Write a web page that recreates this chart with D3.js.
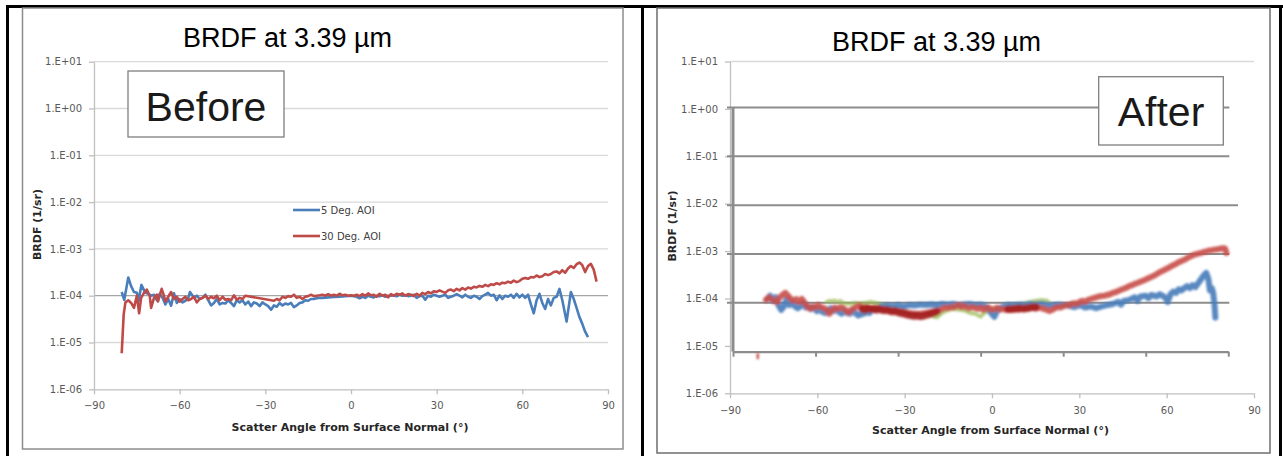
<!DOCTYPE html>
<html>
<head>
<meta charset="utf-8">
<script src="https://cdn.jsdelivr.net/npm/d3@7"></script>
<style>
  body { margin: 0; background: #fff; }
  svg { display: block; }
  .tick text { font-family: "DejaVu Sans", sans-serif; font-size: 10px; fill: #595959; }
</style>
</head>
<body>
<svg id="chart" width="1283" height="456"></svg>
<script>
// Values as [angle in deg, BRDF in units of 1E-04 1/sr]
const UNIT = 1e-4;

const yTickValues = [1e1, 1e0, 1e-1, 1e-2, 1e-3, 1e-4, 1e-5, 1e-6];
const yTickLabels = ["1.E+01", "1.E+00", "1.E-01", "1.E-02", "1.E-03", "1.E-04", "1.E-05", "1.E-06"];
const xTickValues = [-90, -60, -30, 0, 30, 60, 90];
const overlayGridValues = [1e0, 1e-1, 1e-2, 1e-3, 1e-4];
const seriesNames = ["5 Deg. AOI", "30 Deg. AOI"];

// "Before" panel
const before5 = [
  [-80.3, 1.2], [-79.4, 0.82], [-78, 2.45], [-77, 1.6], [-76, 1.2], [-75, 1.15], [-74.4, 0.78], [-73.4, 1.7], [-72, 1.15],
  [-71, 1.1], [-70, 1.0], [-69, 1.05], [-68, 0.8], [-67, 1.1], [-66, 0.9], [-65, 0.65], [-64, 0.85], [-63, 0.61], [-62, 1.13],
  [-61, 0.7], [-60, 0.85], [-59, 0.72], [-58, 0.78], [-57, 0.9], [-56.4, 1.2], [-55, 0.9], [-54, 1.0], [-53, 0.85], [-52, 0.9],
  [-51, 1.05], [-50, 0.8], [-49, 0.62], [-48, 0.7], [-47, 0.85], [-46, 0.65], [-45, 0.7], [-44, 0.68], [-43, 0.8], [-42, 0.7],
  [-41, 0.6], [-40, 0.8], [-39, 0.72], [-38, 0.8], [-37, 0.65], [-36, 0.75], [-35, 0.6], [-34, 0.72], [-33, 0.68], [-32, 0.6],
  [-31, 0.72], [-30, 0.65], [-29, 0.6], [-28, 0.5], [-27, 0.62], [-26, 0.58], [-25, 0.7], [-24, 0.62], [-23, 0.68], [-22, 0.65],
  [-21, 0.7], [-20, 0.57], [-19, 0.62], [-18, 0.7], [-17, 0.72], [-16, 0.8], [-15, 0.78], [-14, 0.85], [-13, 0.85], [-12, 0.88],
  [-11, 0.9], [-10, 0.9], [-8, 0.92], [-6, 0.94], [-4, 0.95], [-2, 0.97], [0, 1.0], [1, 0.98], [2, 0.95], [3, 0.88],
  [4, 0.95], [5, 0.9], [6, 1.0], [7, 0.95], [8, 0.92], [9, 1.0], [10, 0.97], [11, 1.02], [12, 0.95], [13, 1.0],
  [14, 1.0], [15, 1.02], [16, 0.97], [17, 1.05], [18, 1.0], [19, 1.02], [20, 0.98], [21, 1.0], [22, 1.05], [23, 0.9],
  [24, 0.98], [25, 1.0], [26, 0.82], [27, 1.0], [28, 0.95], [29, 1.05], [30, 1.0], [31, 0.95], [32, 1.0], [33, 1.05],
  [34, 0.9], [35, 0.95], [36, 1.0], [37, 1.08], [38, 1.0], [39, 0.92], [40, 1.05], [41, 0.95], [42, 0.9], [43, 1.0],
  [44, 0.95], [45, 0.85], [46, 0.98], [47, 1.05], [48, 1.15], [49, 1.0], [50, 1.05], [51, 0.8], [52, 1.02], [53, 0.85],
  [54, 1.0], [55, 0.95], [56, 1.05], [57, 0.9], [58, 1.1], [59, 0.92], [60, 1.05], [61, 0.9], [62, 1.05], [63, 0.65],
  [64, 0.42], [65, 0.8], [66, 1.1], [67, 0.7], [68, 0.52], [69, 0.85], [70, 0.62], [71, 0.9], [72, 0.95], [73, 1.4],
  [74, 0.8], [75.5, 0.28], [77, 1.2], [78, 0.85], [79, 0.55], [80, 0.35], [81, 0.25], [82, 0.17], [83, 0.13]
];

const before30 = [
  [-80.3, 0.059], [-79.6, 0.4], [-79, 0.72], [-78, 0.8], [-77, 0.7], [-76, 0.55], [-75, 1.0], [-74.2, 0.42], [-73.5, 0.9],
  [-72.5, 1.15], [-71.5, 1.35], [-70.5, 1.0], [-70, 0.55], [-69, 0.9], [-68, 1.05], [-67.6, 0.75], [-66.3, 1.4], [-65.5, 1.0],
  [-65, 0.75], [-64, 0.95], [-63, 1.2], [-62, 0.85], [-61, 0.95], [-60, 0.75], [-59, 0.85], [-58, 0.95], [-57, 0.8],
  [-56, 0.85], [-55, 0.95], [-54, 0.72], [-53, 0.85], [-52, 0.9], [-51, 1.0], [-50, 0.85], [-49, 0.95], [-48, 0.88],
  [-47, 1.0], [-46, 0.8], [-45, 0.95], [-44, 0.82], [-43, 0.85], [-42, 0.8], [-41, 1.02], [-40, 0.82], [-39, 0.9],
  [-38, 0.85], [-37, 1.0], [-27, 0.78], [-26, 0.85], [-25, 0.8], [-24, 0.95], [-23, 0.9], [-22, 0.98], [-21, 0.95],
  [-20, 1.05], [-19, 0.9], [-18, 0.95], [-17, 0.85], [-16, 0.95], [-15, 0.98], [-14, 1.05], [-13, 0.98], [-12, 1.0],
  [-11, 1.02], [-10, 1.05], [-9, 1.0], [-8, 1.08], [-7, 1.0], [-6, 1.05], [-5, 1.0], [-4, 1.1], [-3, 1.02], [-2, 1.05],
  [-1, 1.0], [0, 1.02], [1, 1.0], [2, 1.05], [3, 0.98], [4, 1.08], [5, 1.0], [6, 1.12], [7, 1.02], [8, 1.05], [9, 0.95],
  [10, 1.1], [11, 1.0], [12, 1.05], [13, 0.92], [14, 1.08], [15, 1.0], [16, 1.1], [17, 1.05], [18, 1.12], [19, 1.0],
  [20, 1.08], [21, 1.05], [22, 0.98], [23, 1.1], [24, 1.0], [25, 1.15], [26, 1.08], [27, 1.2], [28, 1.12], [29, 1.25],
  [30, 1.2], [31, 1.3], [32, 1.22], [33, 1.15], [34, 1.3], [35, 1.35], [36, 1.25], [37, 1.4], [38, 1.3], [39, 1.45],
  [40, 1.35], [41, 1.5], [42, 1.42], [43, 1.55], [44, 1.5], [45, 1.62], [46, 1.55], [47, 1.7], [48, 1.6], [49, 1.75],
  [50, 1.7], [51, 1.85], [52, 1.75], [53, 1.9], [54, 1.85], [55, 2.0], [56, 1.9], [57, 2.1], [58, 1.95], [59, 2.05],
  [60, 2.3], [61, 2.4], [62, 2.3], [63, 2.5], [64, 2.45], [65, 2.7], [66, 2.5], [67, 2.6], [68, 2.9], [69, 2.75],
  [70, 2.9], [71, 3.2], [72, 3.3], [73, 3.0], [74, 3.5], [75, 3.1], [76, 3.8], [77, 4.3], [78, 3.9], [79, 4.7],
  [80, 5.1], [81, 4.5], [82, 3.2], [83, 4.3], [84, 4.8], [85, 3.6], [86, 2.0]
];

// "After" panel (pasted plot with its own axes)
const afterGreen = [
  [-56, 1.05], [-55, 1.1], [-54, 1.08], [-53, 1.12], [-52, 1.05], [-51, 1.1], [-50, 1.0], [-48, 0.95], [-46, 1.0],
  [-44, 0.98], [-42, 1.0], [-40, 1.05], [-38, 1.0], [-36, 0.95], [-34, 0.9], [-32, 0.85], [-30, 0.75], [-28, 0.72],
  [-26, 0.65], [-24, 0.62], [-22, 0.6], [-20, 0.6], [-18, 0.55], [-16, 0.5], [-15, 0.55], [-14, 0.62], [-12, 0.7],
  [-10, 0.75], [-8, 0.72], [-6, 0.7], [-4, 0.62], [-2, 0.6], [0, 0.52], [1, 0.6], [2, 0.65], [4, 0.7], [6, 0.75],
  [8, 0.8], [10, 0.85], [12, 0.9], [14, 0.95], [16, 1.0], [18, 1.05], [20, 1.1], [22, 1.15], [24, 1.12], [25, 1.0]
];

const afterBlue = [
  [-77.5, 1.2], [-76.5, 1.4], [-75.5, 1.1], [-74.5, 1.3], [-73.5, 0.9], [-72.5, 0.72], [-71.5, 0.85], [-70.5, 1.2],
  [-69.5, 0.9], [-68.5, 1.05], [-67.5, 0.85], [-66.5, 0.78], [-65.5, 0.85], [-64.5, 1.0], [-63.5, 0.8], [-62.5, 0.85],
  [-61.5, 0.75], [-60.5, 0.8], [-59.5, 0.68], [-58.5, 0.75], [-57.5, 0.65], [-56.5, 0.62], [-55.5, 0.7], [-54.5, 0.78],
  [-53.5, 0.68], [-52.5, 0.72], [-51.5, 0.65], [-50.5, 0.6], [-49.5, 0.68], [-48.5, 0.62], [-47.5, 0.6], [-46.5, 0.7],
  [-45.5, 0.62], [-44.5, 0.55], [-43.5, 0.58], [-42.5, 0.6], [-41.5, 0.65], [-40.5, 0.62], [-39.5, 0.7], [-38, 0.75],
  [-36, 0.85], [-34, 0.88], [-32, 0.85], [-30, 0.9], [-28, 0.85], [-26, 0.9], [-24, 0.88], [-22, 0.92], [-20, 0.9],
  [-18, 0.93], [-16, 0.9], [-14, 0.95], [-12, 0.92], [-10, 0.95], [-8, 0.9], [-6, 0.93], [-4, 0.95], [-2, 0.9],
  [0, 0.92], [2, 0.85], [4, 0.6], [5, 0.52], [6, 0.7], [8, 0.85], [10, 0.9], [12, 0.88], [14, 0.92], [16, 0.9],
  [18, 0.95], [20, 0.92], [22, 0.95], [24, 0.9], [26, 0.88], [28, 0.92], [30, 0.9], [32, 0.88], [34, 0.82], [36, 0.9],
  [38, 0.8], [40, 0.85], [42, 0.78], [44, 0.85], [46, 0.9], [48, 0.95], [50, 1.05], [51, 0.92], [52, 1.1], [54, 1.15],
  [56, 1.3], [57, 1.1], [58, 1.35], [60, 1.4], [61, 1.25], [62, 1.45], [64, 1.35], [65, 1.5], [66, 1.4], [67, 1.3],
  [68, 1.05], [69, 1.5], [70, 1.7], [71, 1.6], [72, 1.9], [73, 1.8], [74, 2.0], [75, 2.2], [76, 2.0], [77, 2.3],
  [78, 2.1], [79, 2.5], [80, 3.0], [81, 3.6], [82, 4.1], [82.8, 3.0], [83.3, 1.8], [84, 2.0], [84.5, 1.6], [85, 0.9],
  [85.3, 0.5]
];

const afterRed = [
  [-78, 1.15], [-77, 1.3], [-76, 1.2], [-75, 1.1], [-74, 1.05], [-73, 1.3], [-72, 1.45], [-71, 1.6], [-70, 1.4],
  [-69, 1.2], [-68, 1.1], [-67, 1.2], [-66, 1.05], [-65, 1.2], [-64, 1.0], [-63, 0.85], [-62, 0.75], [-61, 0.85],
  [-60, 0.8], [-59, 0.9], [-58, 0.82], [-57, 0.78], [-56, 0.72], [-55, 0.6], [-54, 0.7], [-53, 0.8], [-52, 0.75],
  [-51, 0.82], [-50, 0.78], [-49, 0.7], [-48, 0.63], [-47, 0.72], [-46, 0.78], [-45, 0.85], [-44, 0.88], [-43, 0.8],
  [-42, 0.82], [-40, 0.78], [-38, 0.8], [-36, 0.75], [-34, 0.72], [-32, 0.7], [-30, 0.68], [-28, 0.65], [-26, 0.62],
  [-24, 0.6], [-22, 0.6], [-20, 0.62], [-18, 0.65], [-16, 0.68], [-15, 0.7], [-14, 0.75], [-13, 0.8], [-12, 0.78],
  [-11, 0.82], [-10, 0.8], [-9, 0.85], [-8, 0.9], [-7, 0.82], [-6, 0.88], [-5, 0.8], [-4, 0.78], [-3, 0.82], [-2, 0.78],
  [-1, 0.75], [0, 0.8], [1, 0.72], [2, 0.78], [3, 0.8], [4, 0.72], [5, 0.75], [6, 0.8], [7, 0.72], [8, 0.76],
  [9, 0.72], [10, 0.75], [11, 0.72], [12, 0.78], [13, 0.74], [14, 0.72], [15, 0.76], [16, 0.78], [17, 0.75], [18, 0.8],
  [19, 0.78], [20, 0.76], [21, 0.8], [22, 0.78], [23, 0.75], [24, 0.72], [25, 0.68], [26, 0.72], [27, 0.78], [28, 0.82],
  [29, 0.8], [30, 0.85], [31, 0.9], [32, 0.88], [33, 0.95], [34, 0.98], [35, 0.95], [36, 1.05], [37, 1.1], [38, 1.05],
  [39, 1.15], [40, 1.2], [41, 1.25], [42, 1.3], [43, 1.35], [44, 1.38], [45, 1.4], [46, 1.45], [47, 1.5], [48, 1.6],
  [49, 1.65], [50, 1.75], [51, 1.85], [52, 1.95], [53, 2.05], [54, 2.2], [55, 2.3], [56, 2.45], [57, 2.55], [58, 2.7],
  [59, 2.85], [60, 3.0], [61, 3.2], [62, 3.4], [63, 3.6], [64, 3.9], [65, 4.2], [66, 4.5], [67, 4.8], [68, 5.1],
  [69, 5.5], [70, 5.9], [71, 6.3], [72, 6.8], [73, 7.2], [74, 7.6], [75, 8.2], [76, 8.8], [77, 9.4], [78, 9.8],
  [79, 10.2], [80, 10.5], [81, 11], [82, 11.3], [83, 11.8], [84, 12], [85, 12.3], [86, 12.5], [87, 12.8], [88, 13.2],
  [88.8, 13], [89.3, 10.5]
];

const afterDarkRed = [
  [-43, 0.75], [-42, 0.72], [-41, 0.78], [-40, 0.74], [-39, 0.76], [-38, 0.72], [-37, 0.75], [-36, 0.72], [-35, 0.7],
  [-34, 0.72], [-33, 0.68], [-32, 0.66], [-31, 0.68], [-30, 0.64], [-29, 0.62], [-28, 0.6], [-27, 0.58], [-26, 0.56],
  [-25, 0.55], [-24, 0.54], [-23, 0.55], [-22, 0.53], [-21, 0.54], [-20, 0.56], [-19, 0.58], [-18, 0.6], [-17, 0.63],
  [-16, 0.66], [-15, null], [10, 0.74], [12, 0.75], [14, 0.78], [16, 0.76], [18, 0.8], [20, 0.82]
];

const afterRedStray = [[-81, 0.081]];

const svg = d3.select("#chart");

// table cell borders
svg.append("rect").attr("x", 6).attr("y", 5).attr("width", 1277).attr("height", 3).attr("fill", "#000");
svg.append("rect").attr("x", 6).attr("y", 5).attr("width", 3).attr("height", 451).attr("fill", "#000");
svg.append("rect").attr("x", 641).attr("y", 5).attr("width", 3).attr("height", 451).attr("fill", "#000");
svg.append("rect").attr("x", 1279).attr("y", 5).attr("width", 3).attr("height", 451).attr("fill", "#000");

let defs = svg.append("defs");
defs.append("filter").attr("id", "fuzz")
    .append("feGaussianBlur").attr("stdDeviation", 0.8);

function drawPanel(cfg) {
    let g = svg.append("g");

    // chart frame
    g.append("rect")
        .attr("x", cfg.frame[0]).attr("y", cfg.frame[1])
        .attr("width", cfg.frame[2] - cfg.frame[0]).attr("height", cfg.frame[3] - cfg.frame[1])
        .attr("fill", "#fff").attr("stroke", cfg.frameColor).attr("stroke-width", 1.5);

    let x = d3.scaleLinear().domain([-90, 90]).range([cfg.x0, cfg.x1]);
    let y = d3.scaleLog().domain([1e-6, 1e1]).range([cfg.yBottom, cfg.yTop]);

    // gridlines
    g.selectAll("line.grid")
        .data(yTickValues.filter(d => d > 1e-6))
        .enter().append("line")
        .attr("class", "grid")
        .attr("x1", cfg.x0).attr("x2", cfg.x1)
        .attr("y1", d => y(d)).attr("y2", d => y(d))
        .attr("stroke", d => (d === 1e-4 ? "#a6a6a6" : "#d9d9d9"))
        .attr("stroke-width", 1.3);

    // axes
    let yAxis = g.append("g")
        .attr("transform", "translate(" + cfg.x0 + ",0)")
        .call(d3.axisLeft(y).tickValues(yTickValues)
            .tickFormat((d, i) => yTickLabels[i])
            .tickSize(5).tickSizeOuter(0).tickPadding(7));
    let xAxis = g.append("g")
        .attr("transform", "translate(0," + cfg.yBottom + ")")
        .call(d3.axisBottom(x).tickValues(xTickValues)
            .tickSize(5).tickSizeOuter(0).tickPadding(cfg.xPad));
    [yAxis, xAxis].forEach(a => {
        a.select(".domain").attr("stroke", "#bfbfbf").attr("stroke-width", 1.3);
        a.selectAll(".tick line").attr("stroke", "#bfbfbf").attr("stroke-width", 1.3);
    });

    // title
    g.append("text")
        .attr("x", cfg.titlePos[0]).attr("y", cfg.titlePos[1])
        .attr("text-anchor", "middle")
        .style("font-family", "'Liberation Sans', Arial, sans-serif")
        .style("font-size", "27px")
        .style("fill", "#000")
        .text("BRDF at 3.39 µm");

    // axis titles
    g.append("text")
        .attr("transform", "translate(" + cfg.yTitlePos[0] + "," + cfg.yTitlePos[1] + ") rotate(-90)")
        .attr("text-anchor", "middle")
        .attr("dy", "0.35em")
        .style("font-family", "'DejaVu Sans', sans-serif")
        .style("font-weight", "bold")
        .style("font-size", "11px")
        .style("fill", "#262626")
        .text("BRDF (1/sr)");
    g.append("text")
        .attr("x", cfg.xTitlePos[0]).attr("y", cfg.xTitlePos[1])
        .attr("text-anchor", "middle")
        .style("font-family", "'DejaVu Sans', sans-serif")
        .style("font-weight", "bold")
        .style("font-size", "11px")
        .style("fill", "#262626")
        .text("Scatter Angle from Surface Normal (°)");

    return { g, x, y };
}

function drawLabelBox(g, box, label, baseline) {
    g.append("rect")
        .attr("x", box[0]).attr("y", box[1])
        .attr("width", box[2] - box[0]).attr("height", box[3] - box[1])
        .attr("fill", "#fff").attr("stroke", "#7f7f7f").attr("stroke-width", 1.3);
    g.append("text")
        .attr("x", (box[0] + box[2]) / 2).attr("y", baseline)
        .attr("text-anchor", "middle")
        .style("font-family", "'Liberation Sans', Arial, sans-serif")
        .style("font-size", "41px")
        .style("fill", "#1a1a1a")
        .text(label);
}

// ---------- Before ----------
let left = drawPanel({
    frame: [22.5, 8, 623, 449],
    frameColor: "#8c8c8c",
    x0: 94, x1: 608, yTop: 61.7, yBottom: 389.3, xPad: 8,
    titlePos: [287.5, 46.5],
    yTitlePos: [37.5, 224.5],
    xTitlePos: [350, 430.5]
});

let lineBefore = d3.line()
    .x(d => left.x(d[0]))
    .y(d => left.y(d[1] * UNIT));

left.g.append("path").datum(before5)
    .attr("d", lineBefore).attr("fill", "none")
    .attr("stroke", "#4a7ebb").attr("stroke-width", 2.6).attr("stroke-linejoin", "round");
left.g.append("path").datum(before30)
    .attr("d", lineBefore).attr("fill", "none")
    .attr("stroke", "#be4b48").attr("stroke-width", 2.6).attr("stroke-linejoin", "round");

// legend
let legend = left.g.append("g");
[["#4a7ebb", 210], ["#be4b48", 236]].forEach((c, i) => {
    legend.append("line")
        .attr("x1", 293).attr("x2", 320).attr("y1", c[1]).attr("y2", c[1])
        .attr("stroke", c[0]).attr("stroke-width", 2.6);
    legend.append("text")
        .attr("x", 321).attr("y", c[1] + 3.5)
        .style("font-family", "'DejaVu Sans', sans-serif")
        .style("font-size", "10px")
        .style("fill", "#404040")
        .text(seriesNames[i]);
});

drawLabelBox(left.g, [128, 71, 284, 137], "Before", 120.5);

// ---------- After ----------
let right = drawPanel({
    frame: [657, 8, 1270, 453],
    frameColor: "#6e6e6e",
    x0: 730, x1: 1254, yTop: 61.5, yBottom: 393.3, xPad: 9,
    titlePos: [936.5, 50.5],
    yTitlePos: [672, 226],
    xTitlePos: [990.5, 434]
});

// pasted plot on top of the chart, with its own darker axes
let ov = right.g.append("g");
ov.append("rect")
    .attr("x", 731.5).attr("y", 102).attr("width", 527).attr("height", 254)
    .attr("fill", "#fff");

let xo = d3.scaleLinear().domain([-90, 90]).range([733, 1228.3]);
let yo = d3.scaleLog().domain([1e-5, 1e0]).range([351.7, 107.5]);

ov.selectAll("line.ogrid")
    .data(overlayGridValues)
    .enter().append("line")
    .attr("class", "ogrid")
    .attr("x1", 727).attr("x2", d => (d === 1e-2 ? 1238 : xo(90) + 1))
    .attr("y1", d => yo(d)).attr("y2", d => yo(d))
    .attr("stroke", "#8c8c8c").attr("stroke-width", 2);

let oAxis = ov.append("g")
    .attr("transform", "translate(0," + yo(1e-5) + ")")
    .call(d3.axisBottom(xo).tickValues(xTickValues).tickFormat("")
        .tickSize(5).tickSizeOuter(0));
oAxis.select(".domain").attr("stroke", "#8c8c8c").attr("stroke-width", 2.2);
oAxis.selectAll(".tick line").attr("stroke", "#8c8c8c").attr("stroke-width", 2);

ov.append("line")
    .attr("x1", xo(-90)).attr("x2", xo(-90))
    .attr("y1", yo(1e0)).attr("y2", yo(1e-5))
    .attr("stroke", "#8c8c8c").attr("stroke-width", 3);

let lineAfter = d3.line()
    .defined(d => d[1] != null)
    .x(d => xo(d[0]))
    .y(d => yo(d[1] * UNIT));

let marks = ov.append("g").attr("filter", "url(#fuzz)");
[
    [afterGreen, "#9bbb59", 3.5, 0.8],
    [afterBlue, "#4a7ebb", 6, 0.92],
    [afterRed, "#c9504d", 6, 0.92],
    [afterDarkRed, "#a3201d", 7.5, 0.92]
].forEach(s => {
    marks.append("path").datum(s[0])
        .attr("d", lineAfter).attr("fill", "none")
        .attr("stroke", s[1]).attr("stroke-width", s[2])
        .attr("stroke-linejoin", "round").attr("stroke-linecap", "round")
        .attr("stroke-opacity", s[3]);
});

marks.selectAll("rect.stray")
    .data(afterRedStray)
    .enter().append("rect")
    .attr("class", "stray")
    .attr("x", d => xo(d[0]) - 1.2).attr("y", d => yo(d[1] * UNIT) - 3)
    .attr("width", 2.4).attr("height", 6)
    .attr("fill", "#c9504d");

drawLabelBox(right.g, [1098.7, 76.7, 1223.3, 145], "After", 126);
</script>
</body>
</html>
